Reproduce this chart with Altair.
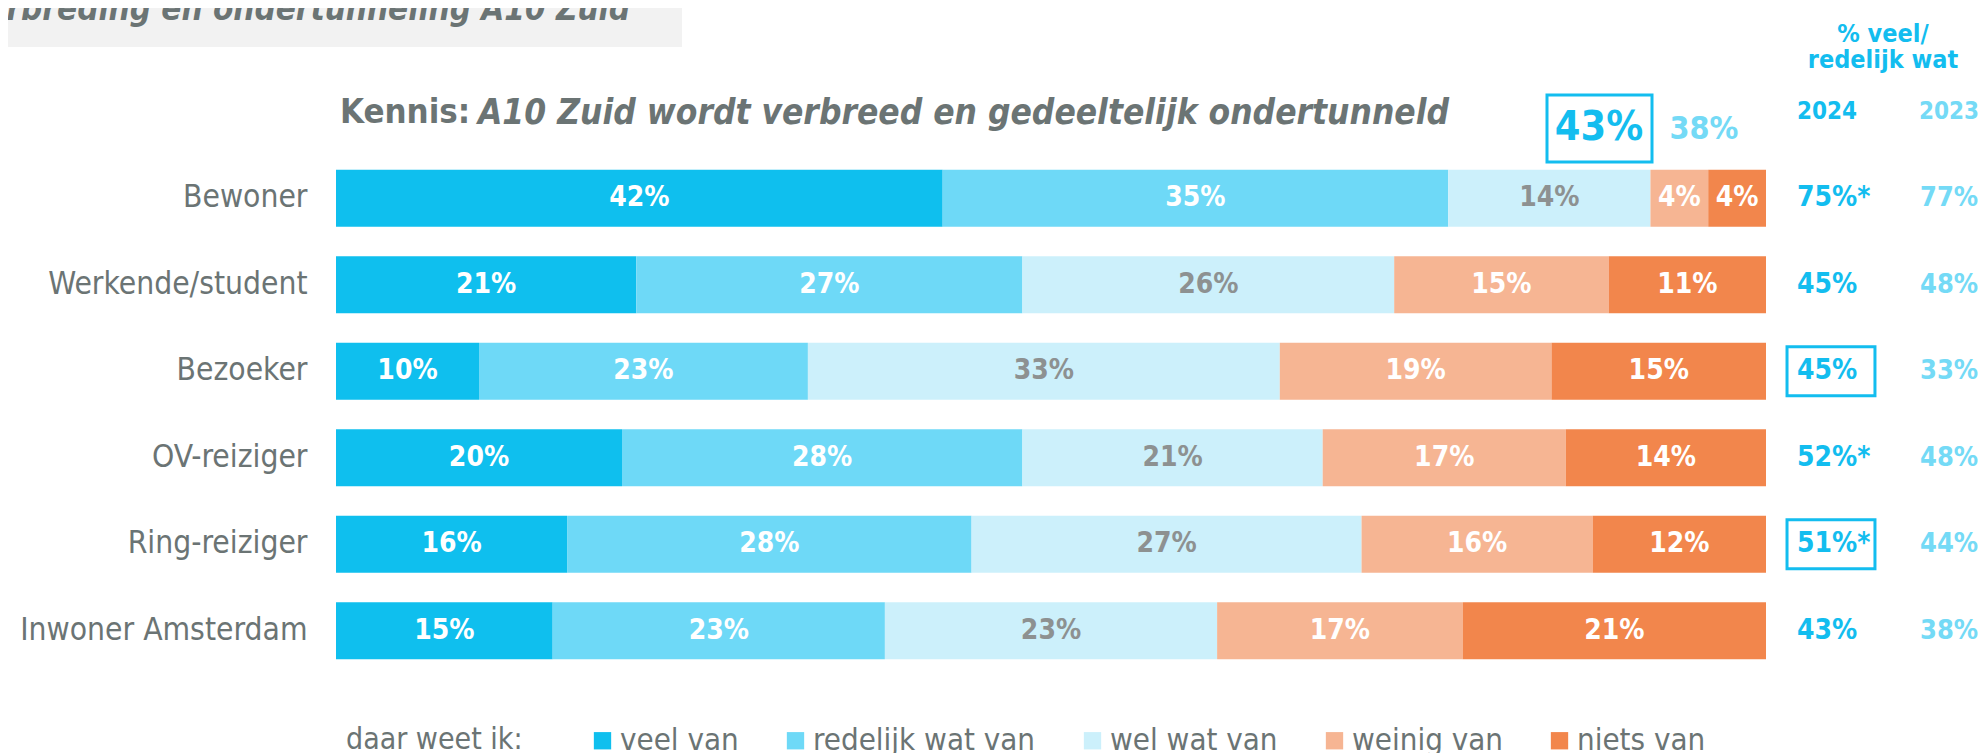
import altair as alt
import pandas as pd

# ---------------- data ----------------
groups = ["Bewoner", "Werkende/student", "Bezoeker", "OV-reiziger", "Ring-reiziger", "Inwoner Amsterdam"]
categories = ["veel van", "redelijk wat van", "wel wat van", "weinig van", "niets van"]
veel = [42, 21, 10, 20, 16, 15]
redelijk = [35, 27, 23, 28, 28, 23]
welwat = [14, 26, 33, 21, 27, 23]
weinig = [4, 15, 19, 17, 16, 17]
niets = [4, 11, 15, 14, 12, 21]
pct_2024 = ["75%*", "45%", "45%", "52%*", "51%*", "43%"]
pct_2023 = ["77%", "48%", "33%", "48%", "44%", "38%"]
highlighted = ["Bezoeker", "Ring-reiziger"]
total_2024 = "43%"
total_2023 = "38%"

# ---------------- styles ----------------
colors = ["#0fbfee", "#6ed9f7", "#ccf0fb", "#f6b593", "#f2864c"]
C24 = "#13bdef"
C23 = "#74daf6"
GRAY = "#6b7474"
LGRAY = "#8d9191"
FONT = "DejaVu Sans Condensed, DejaVu Sans, sans-serif"

W, H = 1644, 519
XMAX = W / 1430.0

series = [veel, redelijk, welwat, weinig, niets]
rows = []
for gi, g in enumerate(groups):
    for ci, c in enumerate(categories):
        rows.append({"group": g, "cat": c, "order": ci, "value": series[ci][gi]})
df = pd.DataFrame(rows)

xscale = alt.Scale(domain=[0, XMAX], nice=False, zero=False)
yscale = alt.Scale(domain=groups, paddingInner=0.34, paddingOuter=0.17)
Y = alt.Y("group:N", sort=groups, scale=yscale,
          axis=alt.Axis(title=None, domain=False, ticks=False, labelFont=FONT,
                        labelFontSize=31.5, labelColor=GRAY, labelPadding=29, labelLimit=500))

base = alt.Chart(df).transform_stack(
    stack="value", groupby=["group"], as_=["v0", "v1"], offset="normalize",
    sort=[alt.SortField("order", order="ascending")]
).transform_calculate(mid="(datum.v0 + datum.v1) / 2", lab="datum.value + '%'")

legend = alt.Legend(orient="none", legendX=10, legendY=570, direction="horizontal",
                    title="daar weet ik:", titleOrient="left", titleFont=FONT, titleFontSize=30,
                    titleFontWeight="normal", titleColor=GRAY, titlePadding=64,
                    labelFont=FONT, labelFontSize=31, labelColor=GRAY, labelLimit=400,
                    symbolType="square", symbolSize=300, symbolStrokeWidth=0, labelOffset=2,
                    columnPadding=41, padding=0)

bars = base.mark_bar().encode(
    x=alt.X("v0:Q", scale=xscale, axis=None),
    x2="v1:Q",
    y=Y,
    color=alt.Color("cat:N", scale=alt.Scale(domain=categories, range=colors), legend=legend),
)

lab_white = base.transform_filter("datum.cat != 'wel wat van'").mark_text(
    font=FONT, fontSize=28, fontWeight="bold", color="white"
).encode(x="mid:Q", y=alt.Y("group:N", sort=groups), text="lab:N")

lab_gray = base.transform_filter("datum.cat == 'wel wat van'").mark_text(
    font=FONT, fontSize=28, fontWeight="bold", color=LGRAY
).encode(x="mid:Q", y=alt.Y("group:N", sort=groups), text="lab:N")

side = pd.DataFrame({"group": groups, "p24": pct_2024, "p23": pct_2023})
t24 = alt.Chart(side).mark_text(align="left", font=FONT, fontSize=28, fontWeight="bold", color=C24).encode(
    x=alt.datum(1.0217), y=alt.Y("group:N", sort=groups), text="p24:N")
t23 = alt.Chart(side).mark_text(align="left", font=FONT, fontSize=27, fontWeight="bold", color=C23).encode(
    x=alt.datum(1.1077), y=alt.Y("group:N", sort=groups), text="p23:N")

hl = alt.Chart(pd.DataFrame({"group": highlighted})).mark_bar(
    height=49, fillOpacity=0, stroke=C24, strokeWidth=3
).encode(x=alt.datum(1.0147), x2=alt.datum(1.0762), y=alt.Y("group:N", sort=groups))


def note(text, x, y, size, color, weight="bold", style="normal", align="center"):
    return alt.Chart(pd.DataFrame({"t": [text]})).mark_text(
        font=FONT, fontSize=size, fontWeight=weight, fontStyle=style, color=color,
        align=align, baseline="middle"
    ).encode(x=alt.value(x), y=alt.value(y), text="t:N")


def box(x, x2, y, y2, fill=None, stroke=None):
    kw = {}
    if fill:
        kw["fill"] = fill
    else:
        kw["fillOpacity"] = 0
    if stroke:
        kw["stroke"] = stroke
        kw["strokeWidth"] = 3
    return alt.Chart(pd.DataFrame({"t": [0]})).mark_rect(**kw).encode(
        x=alt.value(x), x2=alt.value(x2), y=alt.value(y), y2=alt.value(y2))


header_box = box(-328, 346, -147, -108, fill="#f2f2f2")
header_txt = alt.Chart(pd.DataFrame({"t": ["Verbreding en ondertunneling A10 Zuid"]})).mark_text(
    font=FONT, fontSize=33, fontWeight="bold", fontStyle="italic", color=GRAY,
    align="right", baseline="alphabetic"
).encode(x=alt.value(294), y=alt.value(-135), text="t:N")

title1 = note("Kennis:", 4, -42, 34.5, GRAY, align="left")
title2 = note("A10 Zuid wordt verbreed en gedeeltelijk ondertunneld", 142, -42, 35, GRAY,
              style="italic", align="left")
big_box = box(1211, 1316, -60, 7, stroke=C24)
big_txt = note(total_2024, 1263, -27, 41, C24)
big_23 = note(total_2023, 1368, -26, 32, C23)
h1 = note("% veel/", 1547, -121, 25, C24)
h2 = note("redelijk wat", 1547, -95, 25, C24)
h24 = note("2024", 1491, -43, 24, C24)
h23 = note("2023", 1613, -43, 24, C23)

chart = alt.layer(
    header_box, header_txt, bars, lab_white, lab_gray, t24, t23, hl,
    title1, title2, big_box, big_txt, big_23, h1, h2, h24, h23
).properties(
    width=W, height=H,
    autosize=alt.AutoSizeParams(type="none"),
    padding={"left": 328, "top": 147, "right": 0, "bottom": 79},
).configure_view(strokeWidth=0)

chart.save("out.html", embed_options={"renderer": "svg", "actions": False})
